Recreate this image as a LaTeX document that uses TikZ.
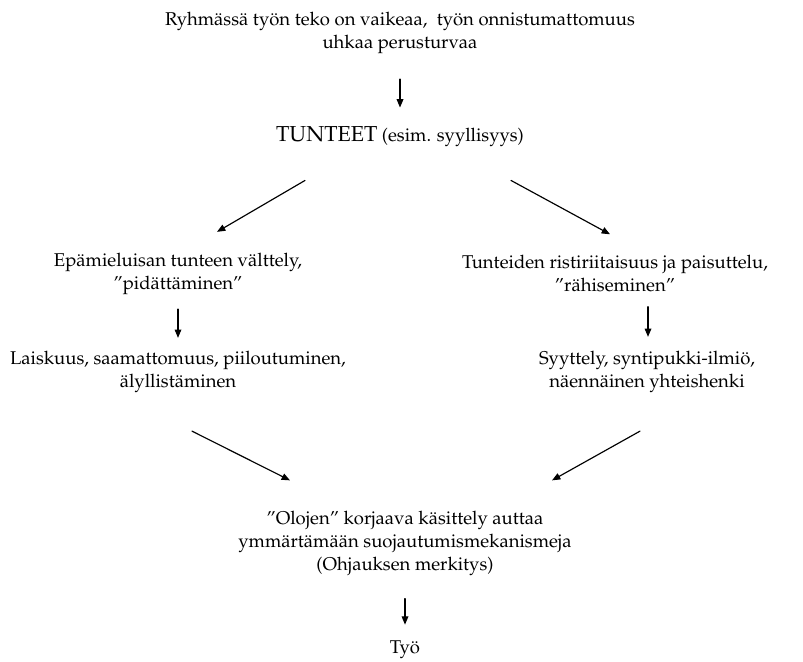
\documentclass[tikz,border=0pt]{standalone}
\usepackage[T1]{fontenc}
\usepackage{mathpazo}
\usetikzlibrary{arrows.meta}
\tikzset{
  txt/.style={align=center, inner sep=0pt, font=\fontsize{11.1}{13.8}\selectfont},
  arr/.style={->, line width=0.7pt}
}
\begin{document}
\begin{tikzpicture}[x=0.6pt, y=-0.6pt, line join=round, line cap=round, >={Triangle[length=5pt,width=4pt]}]
	\useasboundingbox (0,0) rectangle (803,661);
	\node[txt] (top) at (400,33) {Ryhmässä työn teko on vaikeaa,\ \ työn onnistumattomuus\\uhkaa perusturvaa};
	\node[txt] (tunteet) at (400,137) {{\fontsize{13}{14}\selectfont TUNTEET} (esim. syyllisyys)};
	\node[txt] (valttely) at (178,274) {Epämieluisan tunteen välttely,\\''pidättäminen''};
	\node[txt] (ristiriita) at (615,274) {Tunteiden ristiriitaisuus ja paisuttelu,\\''rähiseminen''};
	\node[txt] (laiskuus) at (178,372) {Laiskuus, saamattomuus, piiloutuminen,\\älyllistäminen};
	\node[txt] (syyttely) at (647,372) {Syyttely, syntipukki-ilmiö,\\näennäinen yhteishenki};
	\node[txt] (kasittely) at (405,543) {''Olojen'' korjaava käsittely auttaa\\ymmärtämään suojautumismekanismeja\\(Ohjauksen merkitys)};
	\node[txt] (tyo) at (405,650) {Työ};
	\draw[arr] ([shift={(0,25)}]top.south) -- ([shift={(0,-19)}]tunteet.north);
	\draw[arr] ([shift={(-95,33)}]tunteet.south) -- ([shift={(39,-21)}]valttely.north);
	\draw[arr] ([shift={(111,33)}]tunteet.south) -- ([shift={(-5,-21)}]ristiriita.north);
	\draw[arr] ([shift={(0,14)}]valttely.south) -- ([shift={(0,-13)}]laiskuus.north);
	\draw[arr] ([shift={(33,14)}]ristiriita.south) -- ([shift={(1,-14)}]syyttely.north);
	\draw[arr] ([shift={(14,38)}]laiskuus.south) -- ([shift={(-115,-30)}]kasittely.north);
	\draw[arr] ([shift={(-7,38)}]syyttely.south) -- ([shift={(147,-30)}]kasittely.north);
	\draw[arr] ([shift={(0,23)}]kasittely.south) -- ([shift={(0,-16)}]tyo.north);
\end{tikzpicture}
\end{document}
